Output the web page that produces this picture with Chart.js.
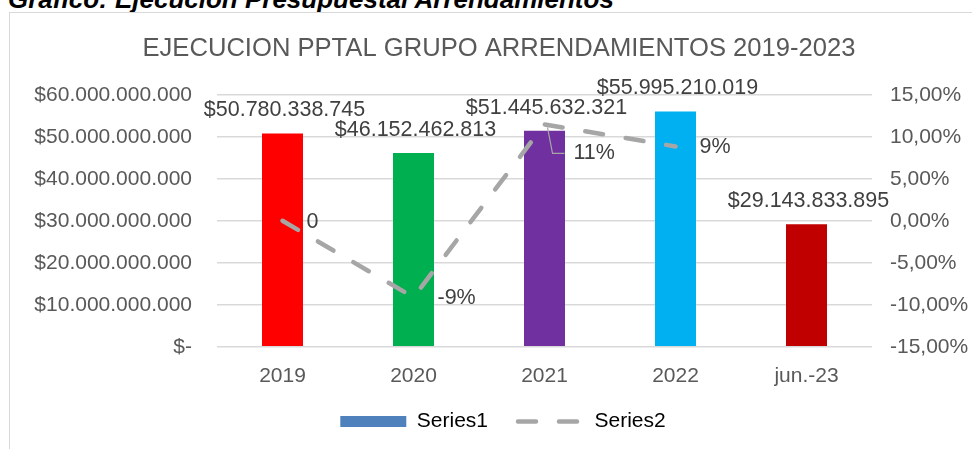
<!DOCTYPE html>
<html>
<head>
<meta charset="utf-8">
<title>Ejecucion PPTAL Arrendamientos</title>
<script src="https://cdn.jsdelivr.net/npm/chart.js@4.4.1/dist/chart.umd.min.js"></script>
<style>
  html, body { margin: 0; padding: 0; background: #fff; overflow: hidden; }
  body { width: 972px; height: 449px; position: relative; }
  #heading { position: absolute; left: 8px; top: -16px; font: italic bold 26px "Liberation Sans", Arial, sans-serif; color: #000; white-space: nowrap; }
  #box { position: absolute; left: 9px; top: 12px; width: 978px; height: 460px; border: 1px solid #D9D9D9; }
</style>
</head>
<body>
<div id="heading">Gráfico: Ejecución Presupuestal Arrendamientos</div>
<div id="box"><canvas id="chart-arrendamientos"></canvas></div>
<script>
const categories = ['2019', '2020', '2021', '2022', 'jun.-23'];
const ejecucion = [50780338745, 46152462813, 51445632321, 55995210019, 29143833895];
const variacion = [0, -9.11, 11.47, 8.84, null];
const variacionLabels = ['0', '-9%', '11%', '9%', ''];
const barColors = ['#FF0000', '#00B050', '#7030A0', '#00B0F0', '#C00000'];
const pesosTicks = ['$-', '$10.000.000.000', '$20.000.000.000', '$30.000.000.000', '$40.000.000.000', '$50.000.000.000', '$60.000.000.000'];
const pctTicks = ['-15,00%', '-10,00%', '-5,00%', '0,00%', '5,00%', '10,00%', '15,00%'];

const fontFamily = '"Liberation Sans", Arial, sans-serif';
const grayText = '#595959';
const lineGray = '#A6A6A6';

function formatPesos(v) {
    return '$' + String(v).replace(/\B(?=(\d{3})+(?!\d))/g, '.');
}

// etiquetas de datos (barras y linea)
const dataLabels = {
    id: 'dataLabels',
    afterDatasetsDraw(chart) {
        const ctx = chart.ctx;
        ctx.save();
        ctx.font = '21.5px ' + fontFamily;
        ctx.fillStyle = '#404040';
        ctx.textBaseline = 'middle';
        ctx.textAlign = 'center';
        chart.getDatasetMeta(0).data.forEach((bar, i) => {
            ctx.fillText(formatPesos(ejecucion[i]), bar.x + 2, bar.y - 23);
        });
        ctx.textAlign = 'left';
        chart.getDatasetMeta(1).data.forEach((pt, i) => {
            if (variacion[i] === null) return;
            if (i === 2) {
                ctx.strokeStyle = lineGray;
                ctx.lineWidth = 1.2;
                ctx.beginPath();
                ctx.moveTo(pt.x + 3, pt.y + 3);
                ctx.lineTo(pt.x + 8, pt.y + 29);
                ctx.lineTo(pt.x + 20, pt.y + 29);
                ctx.stroke();
                ctx.fillText(variacionLabels[i], pt.x + 29, pt.y + 29);
            } else {
                ctx.fillText(variacionLabels[i], pt.x + 24, pt.y + 1);
            }
        });
        ctx.restore();
    }
};

// acerca la leyenda a las etiquetas del eje x
const legendShift = {
    id: 'legendShift',
    afterLayout(chart) {
        chart.legend.top -= 17;
        chart.legend.bottom -= 17;
        chart.legend.left += 4;
        chart.legend.right += 4;
    }
};

new Chart(document.getElementById('chart-arrendamientos'), {
    data: {
        labels: categories,
        datasets: [{
            type: 'bar',
            label: 'Series1',
            data: ejecucion,
            backgroundColor: barColors,
            barPercentage: 0.313,
            categoryPercentage: 1,
            yAxisID: 'y',
            order: 1
        }, {
            type: 'line',
            label: 'Series2',
            data: variacion,
            borderColor: lineGray,
            borderWidth: 4.5,
            borderDash: [18, 23],
            borderCapStyle: 'round',
            pointRadius: 0,
            tension: 0,
            fill: false,
            yAxisID: 'y1',
            order: 0
        }]
    },
    options: {
        responsive: true,
        maintainAspectRatio: false,
        animation: false,
        layout: { padding: { top: 0, bottom: 14, left: 0, right: 0 } },
        scales: {
            x: {
                grid: { display: false },
                border: { display: false },
                ticks: { color: grayText, font: { size: 21, family: fontFamily }, padding: 9 }
            },
            y: {
                position: 'left',
                min: 0,
                max: 60000000000,
                grid: { color: '#D9D9D9', lineWidth: 1.5, drawTicks: false },
                border: { display: false },
                ticks: {
                    stepSize: 10000000000,
                    color: grayText,
                    font: { size: 21, family: fontFamily },
                    padding: 25,
                    callback: (v, i) => pesosTicks[i]
                },
                afterFit(scale) { scale.width = 207; }
            },
            y1: {
                position: 'right',
                min: -15,
                max: 15,
                grid: { drawOnChartArea: false, drawTicks: false },
                border: { display: false },
                ticks: {
                    stepSize: 5,
                    color: grayText,
                    font: { size: 21, family: fontFamily },
                    padding: 18,
                    callback: (v, i) => pctTicks[i]
                },
                afterFit(scale) { scale.width = 116; }
            }
        },
        plugins: {
            title: {
                display: true,
                text: 'EJECUCION PPTAL GRUPO ARRENDAMIENTOS 2019-2023',
                color: grayText,
                font: { size: 25.6, family: fontFamily, weight: 'normal' },
                padding: { top: 21, bottom: 30 }
            },
            legend: {
                position: 'bottom',
                labels: {
                    usePointStyle: true,
                    pointStyleWidth: 66,
                    boxHeight: 11,
                    padding: 30,
                    color: grayText,
                    font: { size: 21, family: fontFamily },
                    generateLabels: () => [{
                        text: 'Series1',
                        fillStyle: '#4F81BD',
                        strokeStyle: '#4F81BD',
                        lineWidth: 0,
                        pointStyle: 'rect',
                        datasetIndex: 0,
                        hidden: false
                    }, {
                        text: 'Series2',
                        fillStyle: 'rgba(0,0,0,0)',
                        strokeStyle: lineGray,
                        lineWidth: 4.5,
                        lineDash: [18, 23],
                        lineCap: 'round',
                        pointStyle: 'line',
                        datasetIndex: 1,
                        hidden: false
                    }]
                }
            },
            tooltip: { enabled: false }
        }
    },
    plugins: [dataLabels, legendShift]
});
</script>
</body>
</html>
